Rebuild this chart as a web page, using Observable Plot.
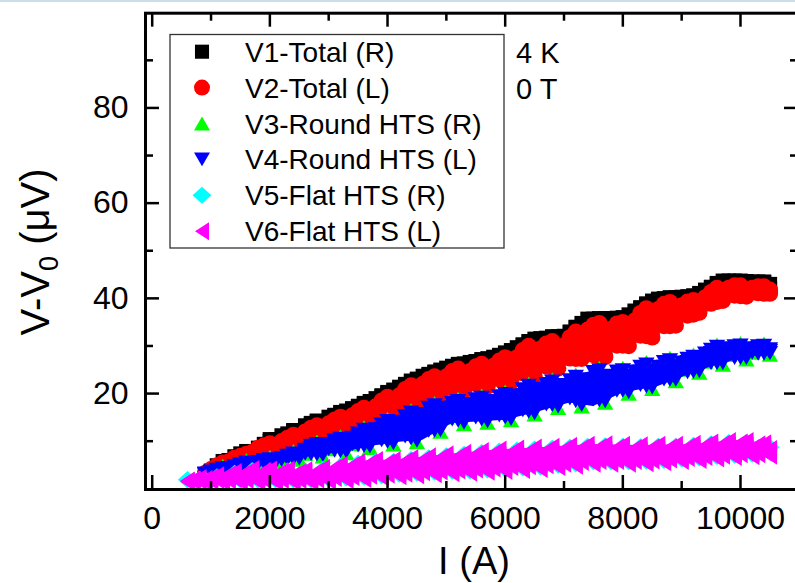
<!DOCTYPE html>
<html><head><meta charset="utf-8">
<script src="https://cdn.jsdelivr.net/npm/d3@7"></script>
<script src="https://cdn.jsdelivr.net/npm/@observablehq/plot@0.6"></script>
<style>
html,body{margin:0;padding:0;background:#fff;overflow:hidden;}
#wrap{position:relative;width:795px;height:583px;overflow:hidden;}
#topline{position:absolute;left:0;top:0;width:795px;height:2px;background:#c9e0e9;z-index:2;}
</style></head>
<body><div id="wrap"><div id="topline"></div></div>
<script>
// ---- data ----
const current = [600,700,800,900,1000,1100,1200,1300,1400,1500,1600,1700,1800,1900,2000,2100,2200,2300,2400,2500,2600,2700,2800,2900,3000,3100,3200,3300,3400,3500,3600,3700,3800,3900,4000,4100,4200,4300,4400,4500,4600,4700,4800,4900,5000,5100,5200,5300,5400,5500,5600,5700,5800,5900,6000,6100,6200,6300,6400,6500,6600,6700,6800,6900,7000,7100,7200,7300,7400,7500,7600,7700,7800,7900,8000,8100,8200,8300,8400,8500,8600,8700,8800,8900,9000,9100,9200,9300,9400,9500,9600,9700,9800,9900,10000,10100,10200,10300,10400,10500];

// V1: readings at each current step
const v1Total_R = [null,null,null,
 3.0,3.8,4.9,5.8, 6.0,6.8,7.4,7.9, 7.8,8.6,9.4,10.0, 9.5,10.4,11.6,12.3, 11.1,12.3,13.7,14.3, 12.6,13.8,15.4,16.1,
 13.8,15.2,17.3,18.0, 14.7,16.8,19.5,20.3, 16.5,18.8,21.9,22.7, 19.0,21.3,24.0,24.6, 20.5,22.7,25.7,26.2, 21.6,23.8,26.7,27.2,
 22.5,24.7,28.0,28.6, 23.5,26.2,30.2,31.0, 24.6,27.7,31.6,32.0, 26.3,28.9,32.9,34.0, 28.3,31.6,35.6,35.8, 28.7,31.9,35.8,36.0,
 31.0,33.8,38.0,38.9, 32.8,36.0,39.9,40.2, 35.3,37.8,40.3,40.6, 38.0,39.9,42.3,43.2, 40.5,42.0,43.6,43.7, 41.4,42.3,43.4,43.5, 42.0];
const v1Total_R_b = [null,null,null,null,null,null,null,null,null,null,null,null,null,null,
 10.4,10.4,11.2,11.2,12.2,12.2,13.3,13.8,14.2,14.2, 15.1,15.5,16.0,16.4,16.9,17.4,17.9,18.4,19.0,19.6,
 20.2,20.8,21.4,22.0,22.6,23.1,23.7,24.1,24.5,25.0, 25.4,25.8,26.1,26.3,26.6,26.8,27.1,27.4,27.7,28.1,
 28.5,29.1,29.7,30.3,30.9,31.5,31.6,31.7,31.9,32.0, 32.1,33.0,33.9,34.8,35.7,35.7,35.7,35.8,35.8,35.9,
 35.9,36.6,37.4,38.1,38.8,39.5,39.9,40.0,40.1,40.2, 40.3,40.4,40.5,41.1,41.8,42.4,43.1,43.7,43.7,43.7,
 43.6,43.6,43.5,43.5,43.4,43.0];

// V2
const v2Total_L = [null,null,null,
 3.0,3.8,4.7,5.5, 5.3,6.2,6.8,7.3, 7.3,8.1,8.9,9.5, 8.5,9.4,10.4,11.3, 10.1,11.3,12.4,13.3, 11.6,12.8,14.0,15.1,
 12.8,14.2,15.7,17.0, 13.7,15.8,17.7,19.3, 15.5,17.8,20.0,21.7, 18.0,20.3,22.1,23.6, 19.5,21.7,23.7,25.2, 20.6,22.8,24.7,26.2,
 21.5,23.7,25.9,27.6, 22.5,25.2,27.8,30.0, 23.6,26.7,29.2,31.0, 25.3,27.9,30.6,33.0, 27.3,30.6,32.7,34.8, 27.7,30.9,33.5,35.0,
 30.0,32.8,35.6,37.9, 31.8,35.0,37.6,39.2, 34.3,36.8,38.5,39.6, 37.0,38.9,40.7,42.2, 39.5,41.0,42.1,42.7, 40.4,41.3,42.1,42.5, 41.0];
const v2Total_L_b = [null,null,null,
 3.3,4.1,4.3,5.1, 5.7,6.5,6.6,7.1, 7.7,8.6,8.2,8.9, 9.2,10.0,9.5,10.6, 11.0,12.0,11.4,12.4, 12.7,13.7,12.7,13.9,
 14.2,15.4,13.9,15.4, 15.6,17.3,15.4,17.4, 17.7,19.6,17.6,19.7, 20.1,22.0,19.8,21.6, 21.8,23.6,21.1,23.0, 23.0,24.7,22.0,24.0,
 24.0,25.8,23.0,25.2, 25.4,27.6,24.3,27.0, 27.1,29.4,25.7,28.3, 28.2,30.1,27.4,30.2, 30.6,33.4,28.1,31.3, 31.3,33.6,30.1,32.5,
 32.9,35.3,32.2,35.0, 35.2,37.7,34.2,36.7, 36.8,38.5,36.4,38.1, 38.6,40.2,38.9,40.8, 41.2,42.2,40.6,41.6, 41.6,42.2,41.1,41.7, 41.8];
const v2Total_L_c = [null,null,null,
 3.2,4.0,4.9,4.8, 5.5,6.4,6.9,7.1, 7.5,8.3,9.1,8.3, 8.9,9.7,10.7,9.9, 10.5,11.7,12.8,11.5, 12.2,13.3,14.5,12.8,
 13.5,14.8,16.3,13.9, 14.7,16.5,18.5,15.5, 16.6,18.7,20.9,17.7, 19.1,21.1,23.0,19.6, 20.7,22.6,24.7,20.8, 21.8,23.7,25.7,21.7,
 22.8,24.8,26.9,22.7, 23.9,26.4,29.1,24.0, 25.4,28.0,30.5,25.5, 26.8,29.0,31.8,27.3, 29.0,32.0,34.4,27.8, 29.5,32.3,34.7,30.1,
 31.4,34.1,36.9,32.1, 33.5,36.3,38.8,34.2, 35.6,37.6,39.3,36.6, 37.8,39.6,41.3,39.3, 40.3,41.6,42.7,40.5, 41.0,41.8,42.5,41.0, 41.4];

// V3
const v3RoundHTS_R = [null,null,null,
 2.7,3.4,4.1,4.8, 3.6,4.4,5.2,6.0, 4.4,5.3,6.0,6.7, 5.3,6.1,7.0,7.9, 6.1,7.4,8.7,9.9, 6.8,8.3,9.7,11.0,
 7.5,9.4,11.2,12.9, 8.6,10.8,12.8,14.7, 9.3,11.9,14.3,16.5, 9.8,13.0,15.9,18.0, 12.0,15.0,17.3,18.9, 13.6,15.9,18.0,19.6,
 13.9,16.3,18.6,20.4, 14.4,17.3,19.9,22.1, 15.6,18.7,21.0,23.0, 17.0,19.7,22.0,24.0, 17.3,20.3,23.2,25.4, 18.1,21.4,23.8,25.4,
 20.0,22.6,24.8,26.6, 21.0,23.5,25.8,27.5, 22.6,25.0,26.8,28.2, 24.4,26.7,28.7,30.3, 26.1,28.1,29.5,30.6, 27.2,28.6,29.7,30.5, 28.2];

// V4
const v4RoundHTS_L = [null,null,null,
 3.0,3.4,3.9,4.3, 3.9,4.4,5.0,5.5, 4.7,5.3,5.8,6.2, 5.6,6.1,6.8,7.4, 6.4,7.4,8.5,9.4, 7.1,8.3,9.5,10.5,
 7.8,9.4,11.0,12.4, 8.9,10.8,12.6,14.2, 9.6,11.9,14.1,16.0, 10.1,13.0,15.7,17.5, 12.3,15.0,17.1,18.4, 13.9,15.9,17.8,19.1,
 14.2,16.3,18.4,19.9, 14.7,17.3,19.7,21.6, 15.9,18.7,20.8,22.5, 17.3,19.7,21.8,23.5, 17.6,20.3,23.0,24.9, 18.4,21.4,23.6,24.9,
 20.3,22.6,24.6,26.1, 21.3,23.5,25.6,27.0, 22.9,25.0,26.6,27.7, 24.7,26.7,28.5,29.8, 26.4,28.1,29.3,30.1, 27.5,28.6,29.5,30.0, 28.5];
const v4RoundHTS_L_b = [null,null,null,
 3.2,3.6,3.5,4.0, 4.3,4.7,4.5,5.1, 5.2,5.6,5.4,5.8, 6.0,6.4,6.2,6.9, 7.2,8.2,7.3,8.3, 8.4,9.4,8.0,9.2,
 9.3,10.7,9.1,10.7, 10.9,12.5,10.2,12.0, 12.1,14.0,11.0,13.3, 13.4,15.7,12.2,14.8, 15.1,17.0,14.6,16.3, 16.3,17.8,15.0,16.9,
 16.8,18.4,15.4,17.4, 17.5,19.6,16.5,18.9, 19.0,21.0,17.7,20.0, 20.0,21.8,19.0,20.9, 20.8,23.0,18.8,21.8, 21.7,23.7,20.6,22.7,
 22.8,24.6,21.8,23.8, 23.8,25.6,23.0,24.9, 25.1,26.5,24.5,26.2, 26.6,28.4,26.4,28.1, 28.3,29.5,27.5,28.8, 28.8,29.5,28.4,29.2, 29.3];
const v4RoundHTS_L_c = [null,null,null,
 3.1,3.5,4.0,3.7, 4.1,4.6,5.1,4.6, 5.0,5.4,6.0,5.5, 5.8,6.2,6.9,6.3, 6.8,7.8,9.0,7.2, 7.7,8.9,10.1,7.9,
 8.6,10.0,11.6,9.0, 9.9,11.6,13.5,9.9, 10.9,12.9,15.2,10.6, 11.7,14.3,17.0,12.2, 13.7,16.0,18.0,14.3, 15.1,16.9,18.8,14.6,
 15.5,17.4,19.4,15.0, 16.1,18.4,20.9,16.2, 17.4,19.8,22.0,17.6, 18.7,20.8,22.8,18.4, 19.2,21.6,24.5,18.6, 20.0,22.5,24.6,20.6,
 21.5,23.6,25.6,21.5, 22.6,24.6,26.6,22.9, 24.0,25.7,27.3,24.6, 25.7,27.6,29.2,26.4, 27.4,28.8,29.9,27.5, 28.2,29.1,29.9,28.4, 28.9];

// V5
const v5FlatHTS_R = [
 1.9,1.5,1.9, 1.9,1.8,2.5, 1.9,2.1,3.2, 1.9,2.4,3.8, 1.9,2.5,3.7, 1.9,2.5,3.7, 1.9,2.4,3.6, 1.9,2.6,4.0,
 2.1,3.0,4.7, 2.3,3.4,5.3, 2.5,3.8,5.7, 2.8,4.0,5.7, 3.1,4.2,6.1, 3.3,4.5,6.5, 3.5,4.8,6.9, 3.7,5.1,7.2,
 3.8,5.4,7.6, 4.0,5.6,7.9, 4.2,5.8,8.1, 4.4,6.0,8.3, 4.6,6.2,8.5, 5.0,6.5,8.7, 5.3,6.8,8.9, 5.7,7.0,9.0,
 5.7,7.0,8.9, 5.7,6.9,8.8, 5.8,7.0,8.9, 6.0,7.2,8.9, 6.3,7.4,9.1, 6.5,7.6,9.4, 6.8,7.9,9.7, 7.1,8.2,9.7,
 7.3,8.0,9.2, 8.7];

// V6
const v6FlatHTS_L = [
 1.5,1.8,2.2, 1.5,2.1,2.8, 1.5,2.4,3.5, 1.5,2.7,4.1, 1.5,2.8,4.0, 1.5,2.8,4.0, 1.5,2.7,3.9, 1.5,2.9,4.3,
 1.7,3.3,5.0, 1.9,3.7,5.6, 2.1,4.1,6.0, 2.4,4.3,6.0, 2.7,4.5,6.4, 2.9,4.8,6.8, 3.1,5.1,7.2, 3.3,5.4,7.5,
 3.4,5.7,7.9, 3.6,5.9,8.2, 3.8,6.1,8.4, 4.0,6.3,8.6, 4.2,6.5,8.8, 4.6,6.8,9.0, 4.9,7.1,9.2, 5.3,7.3,9.3,
 5.3,7.3,9.2, 5.3,7.2,9.1, 5.4,7.3,9.2, 5.6,7.5,9.2, 5.9,7.7,9.4, 6.1,7.9,9.7, 6.4,8.2,10.0, 6.7,8.5,10.0,
 6.9,8.3,9.5, 7.0];
const v6FlatHTS_L_b = [
 1.7,1.9,1.7, 2.0,2.4,1.9, 2.3,3.0,2.1, 2.7,3.5,2.3, 2.9,3.7,2.3, 2.9,3.6,2.3, 2.9,3.5,2.2, 2.8,3.7,2.4,
 3.2,4.4,2.8, 3.7,4.9,3.2, 4.1,5.4,3.4, 4.4,5.5,3.6, 4.6,5.8,3.9, 4.9,6.1,4.1, 5.2,6.5,4.4, 5.5,6.8,4.6,
 5.7,7.2,4.8, 6.0,7.4,5.1, 6.2,7.6,5.3, 6.4,7.8,5.5, 6.6,8.0,5.7, 6.9,8.3,6.1, 7.2,8.5,6.4, 7.5,8.7,6.5,
 7.4,8.6,6.5, 7.4,8.5,6.4, 7.4,8.6,6.6, 7.6,8.7,6.8, 7.8,8.8,7.0, 8.0,9.1,7.3, 8.3,9.4,7.6, 8.6,9.7,7.8,
 8.5,9.3,7.8, 8.3];
const v6FlatHTS_L_c = [
 1.6,1.6,2.0, 1.7,1.7,2.4, 1.9,1.8,2.9, 2.1,1.9,3.3, 2.2,1.9,3.3, 2.1,1.9,3.3, 2.1,1.9,3.2, 2.1,2.0,3.5,
 2.4,2.3,4.1, 2.7,2.5,4.6, 3.0,2.8,4.9, 3.3,3.0,5.0, 3.6,3.2,5.3, 3.8,3.5,5.7, 4.1,3.7,6.0, 4.3,3.9,6.3,
 4.5,4.1,6.6, 4.7,4.3,6.9, 4.9,4.6,7.1, 5.1,4.8,7.3, 5.3,5.0,7.5, 5.7,5.3,7.7, 6.0,5.7,8.0, 6.3,5.9,8.1,
 6.3,5.9,8.0, 6.3,5.9,8.0, 6.3,6.0,8.1, 6.5,6.2,8.2, 6.7,6.5,8.4, 6.9,6.7,8.7, 7.2,7.0,9.0, 7.5,7.3,9.0,
 7.6,7.3,8.8, 7.6];

// spread of the dense readings (lowest / highest reading), read at a few currents
const redBandI    = [900,1600,2200,2700,3300,3700,4200,4600,5100,6000,6500,7000,7400,8000,8600,9200,9700,10500];
const redBandLow  = [3.0,7.0,8.8,11.0,12.8,13.7,16.0,18.6,20.1,22.2,23.6,25.7,27.8,29.5,32.3,36.3,39.5,41.0];
const redBandHigh = [3.6,7.5,10.3,12.9,15.5,17.5,20.5,22.8,24.9,27.6,30.6,31.2,34.8,35.0,39.0,39.6,42.8,42.5];
const blueBandI    = [900,1600,2200,2700,3300,3700,4200,4600,5100,6000,6500,7100,7500,8000,8600,9200,9700,10500];
const blueBandLow  = [3.0,4.5,5.8,6.8,7.8,8.9,9.8,10.2,13.7,14.4,15.9,18.0,17.3,20.1,21.5,24.3,26.4,28.5];
const blueBandHigh = [3.4,5.5,6.5,9.1,10.8,12.9,15.0,17.1,18.2,19.9,22.0,23.0,24.9,24.9,26.6,27.7,30.2,30.0];
const magBandI    = [600,900,1700,2700,3700,4100,5000,5800,6700,7500,8300,9150,10000,10500];
const magBandLow  = [1.5,1.5,1.5,1.5,2.2,2.6,3.2,3.6,4.3,5.3,5.3,6.0,6.8,7.0];
const magBandHigh = [1.8,2.4,4.1,3.9,6.0,6.0,7.2,8.1,8.7,9.3,9.1,9.3,10.2,9.3];

const seriesNames = ["V1-Total (R)","V2-Total (L)","V3-Round HTS (R)","V4-Round HTS (L)","V5-Flat HTS (R)","V6-Flat HTS (L)"];
const seriesReadings = [[v1Total_R, v1Total_R_b], [v2Total_L, v2Total_L_b, v2Total_L_c], [v3RoundHTS_R], [v4RoundHTS_L, v4RoundHTS_L_b, v4RoundHTS_L_c], [v5FlatHTS_R], [v6FlatHTS_L, v6FlatHTS_L_b, v6FlatHTS_L_c]];
const seriesColors = ["#000000","#ff0000","#00ff00","#0000ff","#00ffff","#ff00ff"];
const seriesBands = [null, [redBandI, redBandLow, redBandHigh], null, [blueBandI, blueBandLow, blueBandHigh], null, [magBandI, magBandLow, magBandHigh]];
const xTickLabels = [0,2000,4000,6000,8000,10000];
const xMinorTicks = [1000,3000,5000,7000,9000];
const yTickLabels = [20,40,60,80];
const yMinorTicks = [10,30,50,70,90];
const conditionLabels = ["4 K","0 T"];
const xTitle = "I (A)";

// ---- symbols (Origin-like, sized by half-extent r) ----
const mk = f => ({draw(c, size){ f(c, Math.sqrt(size/Math.PI)); }});
const symSquare = mk((c,r)=>{const s=r*0.88; c.moveTo(-s,-s); c.lineTo(s,-s); c.lineTo(s,s); c.lineTo(-s,s); c.closePath();});
const symCircle = mk((c,r)=>{c.moveTo(r,0); c.arc(0,0,r,0,2*Math.PI); c.closePath();});
const symUp = mk((c,r)=>{const h=r*0.866; c.moveTo(0,-h); c.lineTo(r,h); c.lineTo(-r,h); c.closePath();});
const symDown = mk((c,r)=>{const h=r*0.866; c.moveTo(0,h); c.lineTo(r,-h); c.lineTo(-r,-h); c.closePath();});
const symDiamond = mk((c,r)=>{c.moveTo(0,-1.06*r); c.lineTo(1.18*r,0); c.lineTo(0,1.06*r); c.lineTo(-1.18*r,0); c.closePath();});
const symLeft = mk((c,r)=>{c.moveTo(-0.875*r,0); c.lineTo(0.875*r,-1.125*r); c.lineTo(0.875*r,1.125*r); c.closePath();});
const seriesSymbols = [symSquare, symCircle, symUp, symDown, symDiamond, symLeft];

// ---- tables ----
const rows = seriesReadings.map(list => list.flatMap(vals => current.map((I,i)=>({I, V: vals[i]}))).filter(d=>d.V!=null));
const bands = seriesBands.map(b => b ? b[0].map((I,i)=>({I, lo: b[1][i], hi: b[2][i]})) : null);

const mL=145, mR=-3, mT=12.7, mB=94, W=795, Hh=583;
const frameH = Hh - mB - mT, frameW = W - mR - mL;
const font = "Liberation Sans, Arial, Helvetica, sans-serif";

const marks = [];
rows.forEach((data,k)=>{
  if (bands[k]) marks.push(Plot.areaY(bands[k], {x:"I", y1:"lo", y2:"hi", fill: seriesColors[k], clip:true}));
  marks.push(Plot.dot(data, {x:"I", y:"V", symbol: seriesSymbols[k], r:8.2, fill: seriesColors[k], stroke:"none", clip:true}));
});
const tk = {stroke:"#000", strokeWidth:2.5};
marks.push(
  Plot.tickX(xTickLabels, {x:d=>d, insetTop: frameH-14, ...tk}),
  Plot.tickX(xMinorTicks, {x:d=>d, insetTop: frameH-8, ...tk}),
  Plot.tickX(xTickLabels, {x:d=>d, insetBottom: frameH-14, ...tk}),
  Plot.tickX(xMinorTicks, {x:d=>d, insetBottom: frameH-8, ...tk}),
  Plot.tickY(yTickLabels, {y:d=>d, insetRight: frameW-14, ...tk}),
  Plot.tickY(yMinorTicks, {y:d=>d, insetRight: frameW-8, ...tk}),
  Plot.tickY(yTickLabels, {y:d=>d, insetLeft: frameW-14, ...tk}),
  Plot.tickY(yMinorTicks, {y:d=>d, insetLeft: frameW-8, ...tk}),
  Plot.frame({stroke:"#000", strokeWidth:3}),
  Plot.axisX({ticks: xTickLabels, anchor:"bottom", tickSize:0, tickPadding:17, fontSize:32, tickFormat:d=>String(d), label:null}),
  Plot.axisY({ticks: yTickLabels, anchor:"left", tickSize:0, tickPadding:17, fontSize:32, tickFormat:d=>String(d), label:null})
);

const chart = Plot.plot({
  width: W, height: Hh,
  marginLeft: mL, marginRight: mR, marginTop: mT, marginBottom: mB,
  x: {domain: [-114, 10986]},
  y: {domain: [-0.15, 99.9]},
  style: {fontFamily: font, background: "transparent", color: "#000"},
  marks
});
document.getElementById("wrap").appendChild(chart);

// ---- titles, legend, annotations ----
const svg = d3.select(chart);
svg.append("text").attr("x", 474).attr("y", 574).attr("text-anchor","middle")
  .attr("font-family", font).attr("font-size", 38).attr("fill","#000").text(xTitle);

const yt = svg.append("text").attr("transform","translate(49,252) rotate(-90)").attr("text-anchor","middle")
  .attr("font-family", font).attr("font-size", 40).attr("fill","#000");
yt.append("tspan").text("V-V");
yt.append("tspan").attr("font-size", 27).attr("dy", 9).text("0");
yt.append("tspan").attr("dy", -9).text(" (\u03BCV)");

const lg = svg.append("g");
lg.append("rect").attr("x",170).attr("y",34.5).attr("width",334).attr("height",213.5)
  .attr("fill","#fff").attr("stroke","#333").attr("stroke-width",1.3);
seriesNames.forEach((name,i)=>{
  const cy = 51.7 + i*35.9;
  lg.append("path").attr("transform",`translate(202,${cy})`)
    .attr("d", d3.symbol(seriesSymbols[i], Math.PI*64)()).attr("fill", seriesColors[i]);
  lg.append("text").attr("x",245).attr("y",cy+10).attr("text-anchor","start").attr("font-family",font).attr("font-size",28)
    .attr("fill","#000").text(name);
});
conditionLabels.forEach((t,i)=>{
  svg.append("text").attr("x",516).attr("y",63+i*36).attr("text-anchor","start").attr("font-family",font).attr("font-size",29)
    .attr("fill","#000").text(t);
});
</script>
</body></html>
